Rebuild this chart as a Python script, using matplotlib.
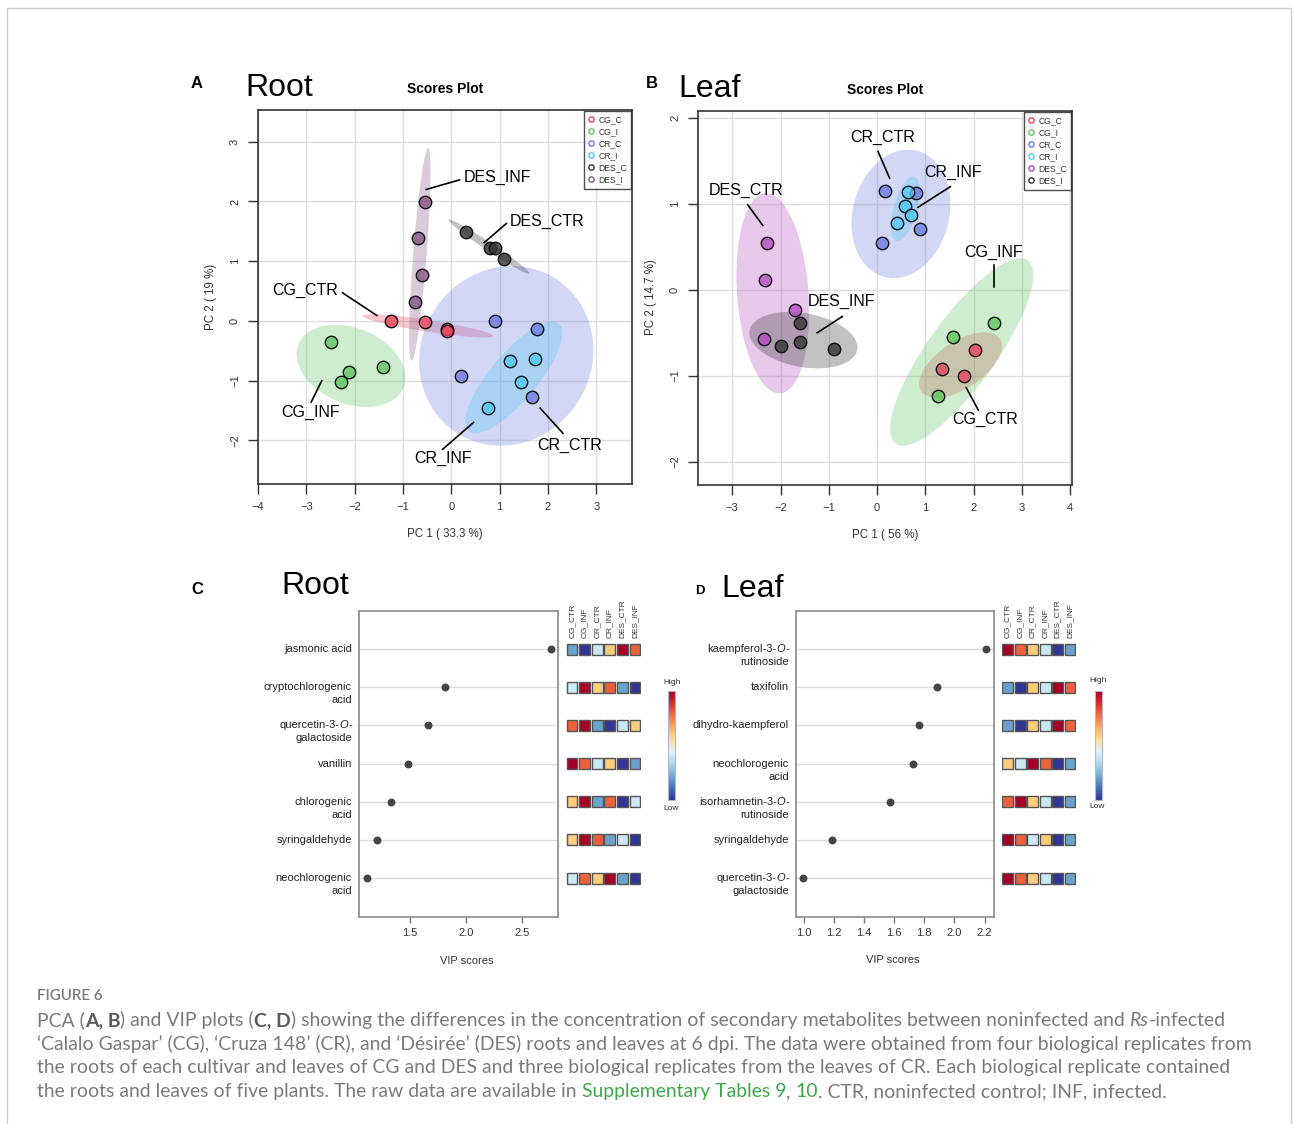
import re
import numpy as np
import matplotlib
matplotlib.use("Agg")
import matplotlib.pyplot as plt
import matplotlib.transforms as mtransforms
from matplotlib.patches import Ellipse, Rectangle
from matplotlib.lines import Line2D
from matplotlib.colors import LinearSegmentedColormap, to_rgba

W, H = 1293, 1124

plt.rcParams['font.family'] = ['Liberation Sans', 'DejaVu Sans']

# ---------------- data ----------------
groups = ['CG_CTR', 'CG_INF', 'CR_CTR', 'CR_INF', 'DES_CTR', 'DES_INF']
legend_names = {'CG_CTR': 'CG_C', 'CG_INF': 'CG_I', 'CR_CTR': 'CR_C',
                'CR_INF': 'CR_I', 'DES_CTR': 'DES_C', 'DES_INF': 'DES_I'}

# root PCA scores
root_pc1 = {'CG_CTR': [-1.25, -0.54, -0.08, -0.08],
            'CG_INF': [-2.48, -2.12, -2.28, -1.42],
            'CR_CTR': [0.90, 1.77, 0.20, 1.68],
            'CR_INF': [1.22, 1.74, 1.45, 0.77],
            'DES_CTR': [0.30, 0.81, 0.91, 1.10],
            'DES_INF': [-0.55, -0.68, -0.61, -0.76]}
root_pc2 = {'CG_CTR': [-0.01, -0.02, -0.13, -0.17],
            'CG_INF': [-0.36, -0.86, -1.02, -0.77],
            'CR_CTR': [-0.01, -0.13, -0.92, -1.28],
            'CR_INF': [-0.67, -0.63, -1.03, -1.45],
            'DES_CTR': [1.49, 1.22, 1.22, 1.04],
            'DES_INF': [1.99, 1.38, 0.77, 0.32]}

# leaf PCA scores
leaf_pc1 = {'CG_CTR': [2.04, 1.35, 1.80],
            'CG_INF': [2.43, 1.57, 1.26],
            'CR_CTR': [0.17, 0.81, 0.10, 0.90],
            'CR_INF': [0.65, 0.57, 0.70, 0.42],
            'DES_CTR': [-2.27, -2.32, -1.70, -2.35],
            'DES_INF': [-1.60, -1.60, -2.00, -0.90]}
leaf_pc2 = {'CG_CTR': [-0.70, -0.92, -1.00],
            'CG_INF': [-0.39, -0.55, -1.23],
            'CR_CTR': [1.15, 1.13, 0.54, 0.71],
            'CR_INF': [1.14, 0.97, 0.87, 0.78],
            'DES_CTR': [0.54, 0.11, -0.24, -0.57],
            'DES_INF': [-0.39, -0.61, -0.65, -0.69]}

# VIP scores ({O} = italic O)
heat_cols = ['CG_CTR', 'CG_INF', 'CR_CTR', 'CR_INF', 'DES_CTR', 'DES_INF']
root_metabolites = ['jasmonic acid', 'cryptochlorogenic\nacid',
                    'quercetin-3-{O}-\ngalactoside', 'vanillin',
                    'chlorogenic\nacid', 'syringaldehyde', 'neochlorogenic\nacid']
root_vip = [2.76, 1.81, 1.66, 1.48, 1.33, 1.21, 1.12]
root_levels = [[2, 1, 3, 4, 6, 5],
               [3, 6, 4, 5, 2, 1],
               [5, 6, 2, 1, 3, 4],
               [6, 5, 3, 4, 1, 2],
               [4, 6, 2, 5, 1, 3],
               [4, 6, 5, 2, 3, 1],
               [3, 5, 4, 6, 2, 1]]

leaf_metabolites = ['kaempferol-3-{O}-\nrutinoside', 'taxifolin',
                    'dihydro-kaempferol', 'neochlorogenic\nacid',
                    'isorhamnetin-3-{O}-\nrutinoside', 'syringaldehyde',
                    'quercetin-3-{O}-\ngalactoside']
leaf_vip = [2.21, 1.886, 1.767, 1.725, 1.572, 1.188, 0.996]
leaf_levels = [[6, 5, 4, 3, 1, 2],
               [2, 1, 4, 3, 6, 5],
               [2, 1, 4, 3, 6, 5],
               [4, 3, 6, 5, 1, 2],
               [5, 6, 4, 3, 1, 2],
               [6, 5, 3, 4, 1, 2],
               [6, 5, 4, 3, 1, 2]]

# ---------------- style ----------------
root_colors = {'CG_CTR': '#E8455F', 'CG_INF': '#5EC45E', 'CR_CTR': '#6B7BE0',
               'CR_INF': '#4FC8F5', 'DES_CTR': '#333333', 'DES_INF': '#865486'}
leaf_colors = {'CG_CTR': '#E8455F', 'CG_INF': '#5EC45E', 'CR_CTR': '#6B7BE0',
               'CR_INF': '#4FC8F5', 'DES_CTR': '#B44CC0', 'DES_INF': '#333333'}
T95 = np.sqrt(5.991)  # sqrt(qchisq(0.95, 2))

rdylbu = ['#313695', '#4575b4', '#74add1', '#abd9e9', '#e0f3f8',
          '#fee090', '#fdae61', '#f46d43', '#d73027', '#a50026']
cmap = LinearSegmentedColormap.from_list('rdylbu_r', rdylbu)

fig = plt.figure(figsize=(W / 100, H / 100), dpi=100)
renderer = fig.canvas.get_renderer()


def px_axes(x0, y0, x1, y1):
    return fig.add_axes([x0 / W, 1 - y1 / H, (x1 - x0) / W, (y1 - y0) / H])


def ftext(x, y, s, **kw):
    return fig.text(x / W, 1 - y / H, s, **kw)


def run_width(s, kw):
    # width incl. leading/trailing spaces
    t1 = fig.text(0, 0, '|' + s + '|', **kw)
    t2 = fig.text(0, 0, '||', **kw)
    w = t1.get_window_extent(renderer).width - t2.get_window_extent(renderer).width
    t1.remove()
    t2.remove()
    return w


def pca_panel(box, pc1, pc2, colors, xlim, ylim, xticks, yticks, labels):
    ax = px_axes(*box)
    ax.set_xlim(xlim)
    ax.set_ylim(ylim)
    ax.set_xticks(xticks)
    ax.set_yticks(yticks)
    ax.grid(True, color='#dedede', lw=1)
    ax.set_axisbelow(True)
    for g in groups:
        x = np.array(pc1[g])
        y = np.array(pc2[g])
        vals, vecs = np.linalg.eigh(np.cov(x, y))
        ang = np.degrees(np.arctan2(vecs[1, 1], vecs[0, 1]))
        ax.add_patch(Ellipse((x.mean(), y.mean()), 2 * T95 * np.sqrt(vals[1]),
                             2 * T95 * np.sqrt(vals[0]), angle=ang,
                             facecolor=to_rgba(colors[g], 0.3), lw=0, zorder=1))
    for g in groups:
        ax.scatter(pc1[g], pc2[g], s=80, facecolor=to_rgba(colors[g], 0.8),
                   edgecolor='#111111', linewidth=1, zorder=3)
    for txt, (tx, ty), (x0, y0), (x1, y1) in labels:
        ax.plot([x0, x1], [y0, y1], color='black', lw=1.2, zorder=4)
        ax.text(tx, ty, txt, ha='center', va='center', fontsize=11.5, zorder=5)
    handles = [Line2D([], [], ls='none', marker='o', mfc='none', mec=colors[g],
                      mew=1, ms=3.8, label=legend_names[g]) for g in groups]
    leg = ax.legend(handles=handles, loc='upper right', fontsize=6.2, frameon=True,
                    fancybox=False, borderaxespad=0.1, handlelength=0.7,
                    handletextpad=0.5, labelspacing=0.35, borderpad=0.5)
    leg.get_frame().set_edgecolor('#222222')
    leg.get_frame().set_linewidth(1.0)
    for t in leg.get_texts():
        t.set_color('#333333')
    for sp in ax.spines.values():
        sp.set_color('#333333')
        sp.set_linewidth(1.2)
    ax.tick_params(direction='out', length=7, width=1, color='#333333',
                   labelsize=8, labelcolor='#333333', pad=6)
    for lbl in ax.get_yticklabels():
        lbl.set_rotation(90)
        lbl.set_va('center')
    return ax


# ---------------- panel A ----------------
pca_panel((258, 110, 632, 484), root_pc1, root_pc2, root_colors,
          (-4, 3.74), (-2.73, 3.53), range(-4, 4), range(-2, 4),
          [('DES_INF', (0.95, 2.40), (-0.52, 2.20), (0.17, 2.36)),
           ('DES_CTR', (1.98, 1.66), (0.68, 1.31), (1.14, 1.63)),
           ('CG_CTR', (-3.02, 0.51), (-2.25, 0.47), (-1.54, 0.09)),
           ('CG_INF', (-2.92, -1.54), (-2.90, -1.36), (-2.68, -1.00)),
           ('CR_INF', (-0.16, -2.31), (-0.18, -2.15), (0.46, -1.70)),
           ('CR_CTR', (2.44, -2.09), (2.31, -1.88), (1.84, -1.46))])
ftext(197, 83, 'A', fontsize=12, weight='bold', ha='center', va='center')
ftext(245, 88, 'Root', fontsize=23, ha='left', va='center')
ftext(445, 89, 'Scores Plot', fontsize=10, weight='bold', ha='center', va='center')
ftext(445, 534, 'PC 1 ( 33.3 %)', fontsize=8.3, color='#333333', ha='center', va='center')
ftext(211, 297, 'PC 2 ( 19 %)', fontsize=8.3, color='#333333', ha='center',
      va='center', rotation=90)

# ---------------- panel B ----------------
pca_panel((698, 111, 1072, 485), leaf_pc1, leaf_pc2, leaf_colors,
          (-3.71, 4.04), (-2.27, 2.08), range(-3, 5), range(-2, 3),
          [('CR_CTR', (0.11, 1.77), (0.02, 1.61), (0.26, 1.30)),
           ('CR_INF', (1.58, 1.37), (1.52, 1.20), (0.85, 0.96)),
           ('DES_CTR', (-2.71, 1.16), (-2.68, 0.99), (-2.37, 0.75)),
           ('DES_INF', (-0.74, -0.14), (-0.72, -0.31), (-1.24, -0.50)),
           ('CG_INF', (2.42, 0.43), (2.42, 0.29), (2.42, 0.03)),
           ('CG_CTR', (2.24, -1.51), (2.10, -1.40), (1.85, -1.14))])
ftext(652, 83, 'B', fontsize=12, weight='bold', ha='center', va='center')
ftext(678, 89, 'Leaf', fontsize=23, ha='left', va='center')
ftext(885, 90, 'Scores Plot', fontsize=10, weight='bold', ha='center', va='center')
ftext(885, 535, 'PC 1 ( 56 %)', fontsize=8.3, color='#333333', ha='center', va='center')
ftext(651, 297, 'PC 2 ( 14.7 %)', fontsize=8.3, color='#333333', ha='center',
      va='center', rotation=90)


# ---------------- VIP panels ----------------
def right_runs(ax, row, line, dy):
    """Right-aligned label line; text in {} is italic."""
    pieces = [p for p in re.split(r'(\{[^}]*\})', line) if p]
    x_off = -7.0
    for p in reversed(pieces):
        kw = dict(fontsize=8, color='#222222')
        if p.startswith('{'):
            p = p[1:-1]
            kw['style'] = 'italic'
        tr = mtransforms.offset_copy(ax.get_yaxis_transform(), fig=fig,
                                     x=x_off, y=dy, units='dots')
        ax.text(0, row, p, transform=tr, ha='right', va='center', **kw)
        x_off -= run_width(p, kw)


def vip_panel(box, heat_box, cbar_box, names, vip, levels, xlim, xticks):
    ax = px_axes(*box)
    rows = np.arange(len(names))
    ax.set_xlim(xlim)
    ax.set_ylim(7.02, -1.0)
    for r in rows:
        ax.axhline(r, color='#dddddd', lw=1, zorder=1)
    ax.scatter(vip, rows, s=22, color='#444444', zorder=3)
    ax.set_yticks([])
    ax.set_xticks(xticks)
    ax.set_xticklabels(['%.1f' % t for t in xticks])
    ax.tick_params(axis='x', direction='out', length=4, width=1, color='#777777',
                   labelsize=8, labelcolor='#333333', pad=4)
    for sp in ax.spines.values():
        sp.set_color('#8a8a8a')
        sp.set_linewidth(1.2)
    for r, name in zip(rows, names):
        for k, line in enumerate(name.split('\n')):
            right_runs(ax, r, line, -13 * k)

    hx = px_axes(*heat_box)
    hx.set_xlim(-0.5, 5.5)
    hx.set_ylim(7.02, -1.0)
    hx.axis('off')
    sw, sh = 0.87, 0.288
    for r in rows:
        for c in range(len(heat_cols)):
            hx.add_patch(Rectangle((c - sw / 2, r - sh / 2), sw, sh,
                                   facecolor=cmap((levels[r][c] - 1) / 5.0),
                                   edgecolor='#555555', lw=1))
    for c, lab in enumerate(heat_cols):
        hx.text(c, -0.3, lab, rotation=90, ha='center', va='bottom',
                fontsize=6, color='#333333')

    cx = px_axes(*cbar_box)
    cx.imshow(np.linspace(1, 0, 200).reshape(-1, 1), cmap=cmap, aspect='auto',
              extent=(0, 1, 0, 1))
    cx.set_xticks([])
    cx.set_yticks([])
    for sp in cx.spines.values():
        sp.set_color('#b4b4d8')
        sp.set_linewidth(0.8)
    return ax


vip_panel((359, 611, 558, 917), (565.7, 611, 641.3, 917), (668, 691, 675, 800),
          root_metabolites, root_vip, root_levels, (1.045, 2.82), [1.5, 2.0, 2.5])
ftext(672, 683, 'High', fontsize=6, color='#333333', ha='center', va='center')
ftext(671, 808, 'Low', fontsize=6, color='#333333', ha='center', va='center')
ftext(197, 590, 'C', fontsize=12, weight='bold', ha='center', va='center')
ftext(281, 586, 'Root', fontsize=23, ha='left', va='center')
ftext(467, 961, 'VIP scores', fontsize=8, color='#333333', ha='center', va='center')

vip_panel((796, 611, 994, 917), (1001.5, 611, 1076.3, 917), (1095, 691, 1102, 800),
          leaf_metabolites, leaf_vip, leaf_levels, (0.949, 2.262),
          [1.0, 1.2, 1.4, 1.6, 1.8, 2.0, 2.2])
ftext(1098, 681, 'High', fontsize=6, color='#333333', ha='center', va='center')
ftext(1097, 807, 'Low', fontsize=6, color='#333333', ha='center', va='center')
ftext(700, 591, 'D', fontsize=9.5, weight='bold', ha='center', va='center')
ftext(721, 589, 'Leaf', fontsize=23, ha='left', va='center')
ftext(893, 960, 'VIP scores', fontsize=8, color='#333333', ha='center', va='center')

# ---------------- caption ----------------
cap_font = ['Lato', 'DejaVu Sans']
gray = '#7a7a7a'
green = '#3aaa48'


def run_kw(kind, size):
    kw = dict(fontsize=size, family=cap_font, color=gray)
    if kind == 'b':
        kw.update(weight='bold', color='#5a5a5a')
    elif kind == 'i':
        kw.update(style='italic')
    elif kind == 'g':
        kw.update(color=green)
    return kw


def draw_runs(x, y, runs, size):
    for s, kind in runs:
        kw = run_kw(kind, size)
        ftext(x, y, s, va='baseline', ha='left', **kw)
        x += run_width(s, kw)


caption = [
    [('PCA (', 'n'), ('A, B', 'b'), (') and VIP plots (', 'n'), ('C, D', 'b'),
     (') showing the differences in the concentration of secondary metabolites '
      'between noninfected and ', 'n'), ('Rs', 'i'), ('-infected', 'n')],
    [('\u2018Calalo Gaspar\u2019 (CG), \u2018Cruza 148\u2019 (CR), and \u2018D\u00e9sir\u00e9e\u2019 '
      '(DES) roots and leaves at 6 dpi. The data were obtained from four biological '
      'replicates from', 'n')],
    [('the roots of each cultivar and leaves of CG and DES and three biological '
      'replicates from the leaves of CR. Each biological replicate contained', 'n')],
    [('the roots and leaves of five plants. The raw data are available in ', 'n'),
     ('Supplementary Tables 9', 'g'), (', ', 'n'), ('10', 'g'),
     ('. CTR, noninfected control; INF, infected.', 'n')],
]

base = 12.0
w1 = sum(run_width(s, run_kw(k, base)) for s, k in caption[0])
cap_size = base * 1186.0 / w1

ftext(37, 1000, 'FIGURE 6', fontsize=cap_size * 0.78, family=cap_font,
      weight='semibold', color=gray, ha='left', va='baseline')
for i, line in enumerate(caption):
    draw_runs(37, 1026 + 23.7 * i, line, cap_size)

# outer frame
fig.add_artist(Line2D([7 / W, 7 / W, 1291 / W, 1291 / W], [0, 1 - 8 / H, 1 - 8 / H, 0],
                      transform=fig.transFigure, color='#cccccc', lw=1))

fig.savefig('out.png', dpi=100)
